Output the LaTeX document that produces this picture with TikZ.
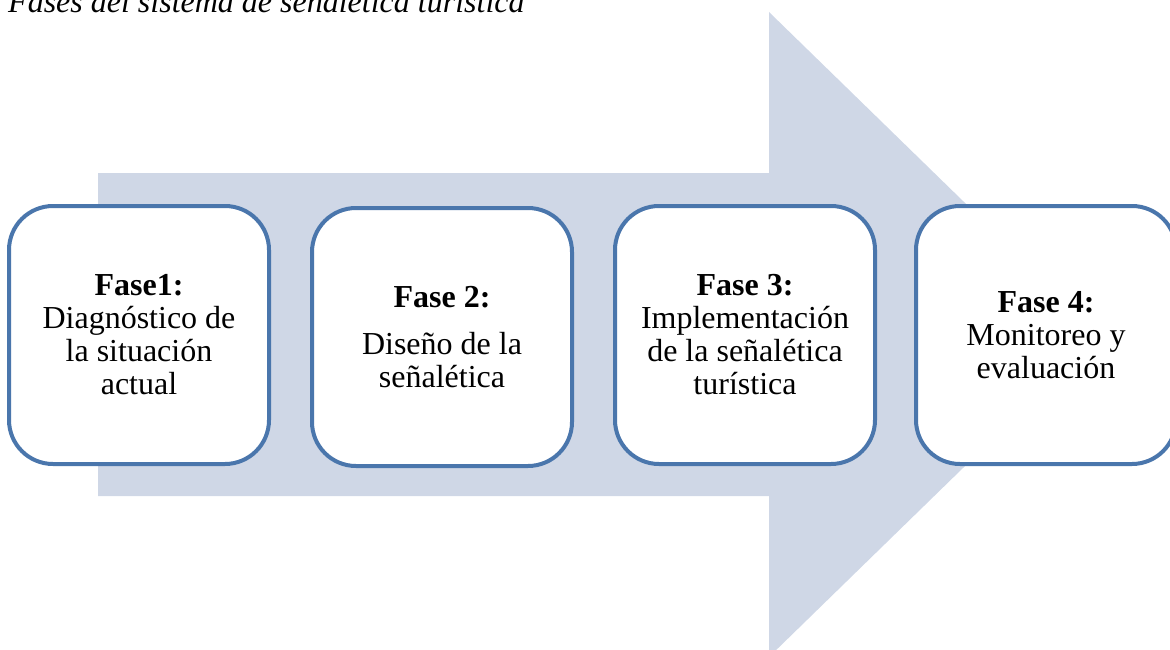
\documentclass[tikz,border=0pt]{standalone}
\usepackage{fontspec}
\setmainfont{Liberation Serif}
\definecolor{arrowfill}{RGB}{207,215,230}
\definecolor{boxline}{RGB}{74,118,172}
\begin{document}
\begin{tikzpicture}[x=1pt,y=-1pt,
  phase/.style={draw=boxline, line width=4pt, fill=white, rounded corners=44pt,
    minimum width=260pt, minimum height=258pt, align=center,
    font=\fontsize{32}{33}\selectfont, inner sep=0pt}]
\useasboundingbox (0,0) rectangle (1170,650);
\clip (0,0) rectangle (1170,650);
\fill[arrowfill] (98,173) -- (769,173) -- (769,12) -- (1100,334.5) -- (769,657) -- (769,496) -- (98,496) -- cycle;
\node[anchor=base west, font=\itshape\fontsize{32}{34}\selectfont, inner sep=0pt] (title) at (8,13) {Fases del sistema de señalética turística};
\node[phase] (f1) at (139,335) {\textbf{Fase1:}\\Diagnóstico de\\la situación\\actual};
\node[phase] (f2) at (442,337) {\textbf{Fase 2:}\\[14pt]Diseño de la\\señalética};
\node[phase] (f3) at (745,335) {\textbf{Fase 3:}\\Implementación\\de la señalética\\turística};
\node[phase] (f4) at (1046,335) {\textbf{Fase 4:}\\Monitoreo y\\evaluación};
\end{tikzpicture}
\end{document}
